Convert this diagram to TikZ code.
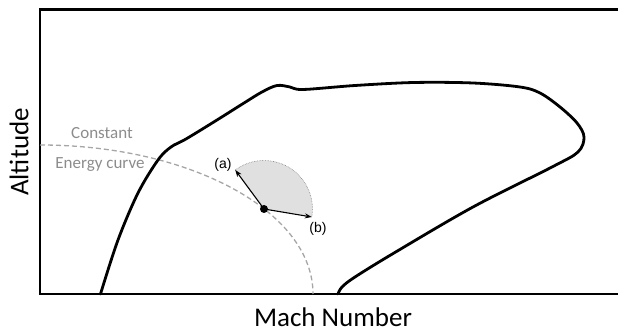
\documentclass[tikz,border=0pt]{standalone}
\usepackage{fontspec}
\setmainfont{Carlito}
\newfontfamily\arialfont{Liberation Sans}
\usepackage{xcolor}
\usetikzlibrary{arrows.meta,positioning,calc}
\definecolor{ink}{HTML}{000000}
\definecolor{energygray}{HTML}{A6A6A6}
\definecolor{labelgray}{HTML}{8C8C8C}
\definecolor{sectorfill}{HTML}{E0E0E0}
\definecolor{sectoredge}{HTML}{808080}
\tikzset{
  axisline/.style={draw=ink,line width=2.4pt},
  envelope/.style={draw=ink,line width=2.8pt,line join=round,line cap=round},
  energyline/.style={draw=energygray,line width=1.3pt,
                     dash pattern=on 5pt off 3pt},
  sectoredge/.style={draw=sectoredge,densely dotted,line width=0.6pt},
  dirarr/.style={-{Stealth[length=7pt,width=5pt]},draw=ink,line width=1.1pt},
  axislabel/.style={font=\fontsize{27}{29}\selectfont,text=ink,inner sep=0pt},
  curvelabel/.style={font=\fontsize{17}{18}\selectfont,text=labelgray},
  tiplabel/.style={font=\arialfont\fontsize{14}{15}\selectfont,text=ink}
}

\begin{document}
\begin{tikzpicture}[x=1pt,y=1pt]
    \path[use as bounding box] (0,0) rectangle (618,332);
    % frame (open to the right)
    \draw[axisline] (625,322.5) -- (40,322.5) -- (40,38) -- (625,38);
    \node[axislabel,rotate=90] (ylab) at (19,180) {Altitude};
    \node[axislabel,anchor=base] (xlab) at (333,6) {Mach Number};
    % constant energy curve
    \draw[energyline] (40,187) arc[start angle=90,end angle=0,
      x radius=273,y radius=149];
    \node[curvelabel] (const) at (102,199) {Constant};
    \node[curvelabel] (ecurve) at (100,167) {Energy curve};
    % flight envelope
    \draw[envelope] plot[smooth,tension=0.55] coordinates {
      (100.5,38) (118,92) (138,139) (158,172) (171,185) (186,193)
      (217,212) (244,229) (262,240) (277,246.5) (290,245) (303,242.5)
      (355,246.5) (414,249.5) (473,249) (520,245) (540,239) (560,225)
      (577,209) (584,195) (578,180) (552,165) (473,125)
      (394,79) (355,55) (342,45) (338,38)};
    % turn sector
    \coordinate (pt) at (264,123);
    \coordinate (atip) at ($(pt)+(126.4:48.5)$);
    \coordinate (btip) at ($(pt)+(-9.5:48.5)$);
    \fill[sectorfill] (pt) -- (atip) arc[start angle=126.4,end angle=-9.5,
      radius=48.5] -- cycle;
    \draw[sectoredge] (atip) arc[start angle=126.4,end angle=-9.5,radius=48.5];
    \node[circle,fill=ink,inner sep=0pt,minimum size=8pt] (dot) at (pt) {};
    \draw[dirarr] (dot.center) -- (atip);
    \draw[dirarr] (dot.center) -- (btip);
    \node[tiplabel] (alab) at (223,167) {(a)};
    \node[tiplabel] (blab) at (318,103) {(b)};
  \end{tikzpicture}
\end{document}
